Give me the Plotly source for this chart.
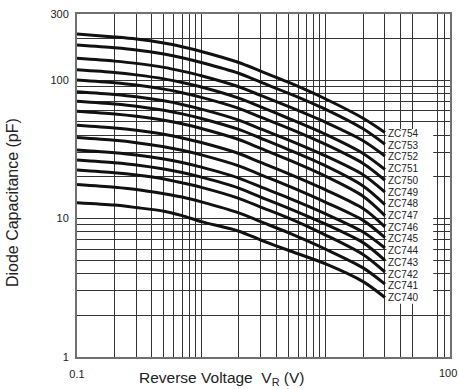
import math
import plotly.graph_objects as go

# Reverse voltage sample points (V)
voltage = [0.1, 0.2, 0.3, 0.5, 0.7, 1, 2, 3, 5, 10, 20, 30]

# Diode capacitance (pF), one list per device
zc754 = [215, 205, 198, 185, 174, 161, 134, 116, 96.5, 73, 53, 41.8]
zc753 = [179, 171, 165, 154, 145, 134, 112, 96.5, 80.5, 61.5, 44.5, 34.4]
zc752 = [143.6, 137, 132, 123.5, 116, 107.5, 89.5, 77.5, 64.5, 49.5, 36.5, 28.3]
zc751 = [118.7, 113.5, 109, 102, 96, 89, 74, 64, 53, 40.5, 29.5, 22.6]
zc750 = [100, 95.5, 92, 86, 81, 75, 62.5, 54, 45, 34.3, 25, 18.9]
zc749 = [82.3, 78.6, 75.7, 70.8, 66.7, 61.7, 51.4, 44.4, 37, 28.3, 20.7, 15.5]
zc748 = [70.4, 67.2, 64.8, 60.5, 57, 52.8, 44, 38, 31.5, 24, 17.2, 12.6]
zc747 = [59.6, 56.9, 54.8, 51.3, 48.3, 44.7, 37.2, 32.1, 26.6, 20.2, 14.5, 10.5]
zc746 = [47.2, 45.1, 43.4, 40.6, 38.2, 35.4, 29.5, 25.4, 21.1, 16.1, 11.8, 8.71]
zc745 = [38.4, 36.7, 35.3, 33, 31.1, 28.8, 24, 20.7, 17.2, 13.1, 9.7, 7.28]
zc744 = [31.3, 29.9, 28.8, 26.9, 25.4, 23.5, 19.6, 16.9, 14.1, 10.8, 8.0, 6.13]
zc743 = [26.5, 25.3, 24.4, 22.8, 21.5, 19.9, 16.6, 14.3, 11.9, 9.1, 6.7, 4.99]
zc742 = [22.4, 21.4, 20.6, 19.3, 18.1, 16.8, 14, 12.1, 10.1, 7.6, 5.5, 4.11]
zc741 = [17.6, 16.8, 16.2, 15.1, 14.3, 13.2, 11, 9.5, 7.9, 6.0, 4.4, 3.36]
zc740 = [13.0, 12.5, 12.0, 11.3, 10.5, 9.5, 8.1, 7.0, 5.9, 4.7, 3.5, 2.69]

device_names = ["ZC754", "ZC753", "ZC752", "ZC751", "ZC750", "ZC749", "ZC748",
                "ZC747", "ZC746", "ZC745", "ZC744", "ZC743", "ZC742", "ZC741", "ZC740"]
device_series = [zc754, zc753, zc752, zc751, zc750, zc749, zc748,
                 zc747, zc746, zc745, zc744, zc743, zc742, zc741, zc740]

# Axis grid / tick values
x_grid = [0.1, 0.2, 0.3, 0.4, 0.5, 0.6, 0.7, 0.8, 0.9, 1, 2, 3, 4, 5, 6, 7, 8, 9,
          10, 20, 30, 40, 50, 80, 90, 100]
x_labels = {0.1: "0.1"}
x_end_label = "100"
y_grid = [1, 2, 3, 4, 5, 6, 7, 8, 9, 10, 20, 30, 40, 50, 60, 70, 80, 90, 100, 200, 300]
y_labels = {1: "1", 10: "10", 100: "100", 300: "300"}

FONT = "Liberation Sans, Arial, sans-serif"

# layout geometry (pixels)
PLOT_TOP, PLOT_H = 14, 343
LABEL_FIRST_PX, LABEL_LAST_PX = 133.3, 297.7

fig = go.Figure()
n = len(device_names)
for i, (name, vals) in enumerate(zip(device_names, device_series)):
    fig.add_trace(go.Scatter(
        x=voltage, y=vals, mode="lines", name=name,
        line=dict(color="#111111", width=3, shape="spline", smoothing=0.8),
        showlegend=False, hoverinfo="skip",
    ))
    py = LABEL_FIRST_PX + (LABEL_LAST_PX - LABEL_FIRST_PX) * i / (n - 1)
    fig.add_annotation(
        x=math.log10(voltage[-1]), y=1 - (py - PLOT_TOP) / PLOT_H,
        xref="x", yref="paper",
        text=name, showarrow=False, xanchor="left", yanchor="middle",
        xshift=2, borderpad=0, font=dict(family=FONT, size=10, color="#222222"),
    )

# white label box that hides the grid behind the device names
fig.add_shape(type="rect", xref="paper", yref="paper",
              x0=0.8295, x1=0.955, y0=0.155, y1=0.665,
              fillcolor="white", line=dict(width=0), layer="above")

fig.update_xaxes(
    type="log", range=[-1, 2],
    tickmode="array", tickvals=x_grid,
    ticktext=[x_labels.get(v, "") for v in x_grid],
    showgrid=True, gridcolor="#333333", gridwidth=1,
    showline=True, linecolor="#707070", linewidth=2, mirror=True,
    ticks="", ticklabelstandoff=6, zeroline=False,
    tickfont=dict(family=FONT, size=11, color="#222222"),
)
fig.update_yaxes(
    type="log", range=[0, math.log10(300)],
    tickmode="array", tickvals=y_grid,
    ticktext=[y_labels.get(v, "") for v in y_grid],
    showgrid=True, gridcolor="#333333", gridwidth=1,
    showline=True, linecolor="#707070", linewidth=2, mirror=True,
    ticks="", ticklabelstandoff=4, zeroline=False,
    tickfont=dict(family=FONT, size=11, color="#222222"),
)

# right-end x tick label (partly at the page edge in the original)
fig.add_annotation(
    x=1.0, y=-0.047, xref="paper", yref="paper", text=x_end_label,
    showarrow=False, xanchor="center", yanchor="middle", xshift=-2,
    font=dict(family=FONT, size=11, color="#222222"),
)

fig.add_annotation(
    x=0.388, y=-0.062, xref="paper", yref="paper",
    text="Reverse Voltage  V<sub>R</sub> (V)", showarrow=False,
    xanchor="center", yanchor="middle",
    font=dict(family=FONT, size=15.5, color="#222222"),
)
fig.add_annotation(
    x=-0.173, y=0.45, xref="paper", yref="paper",
    text="Diode Capacitance (pF)", showarrow=False, textangle=-90,
    xanchor="center", yanchor="middle",
    font=dict(family=FONT, size=16, color="#222222"),
)

fig.update_layout(
    width=459, height=389,
    margin=dict(l=77, r=7, t=14, b=32),
    paper_bgcolor="white", plot_bgcolor="white",
    font=dict(family=FONT),
)

fig.write_html("out.html", config={"displayModeBar": False},
               post_script="document.body.style.margin='0';")
